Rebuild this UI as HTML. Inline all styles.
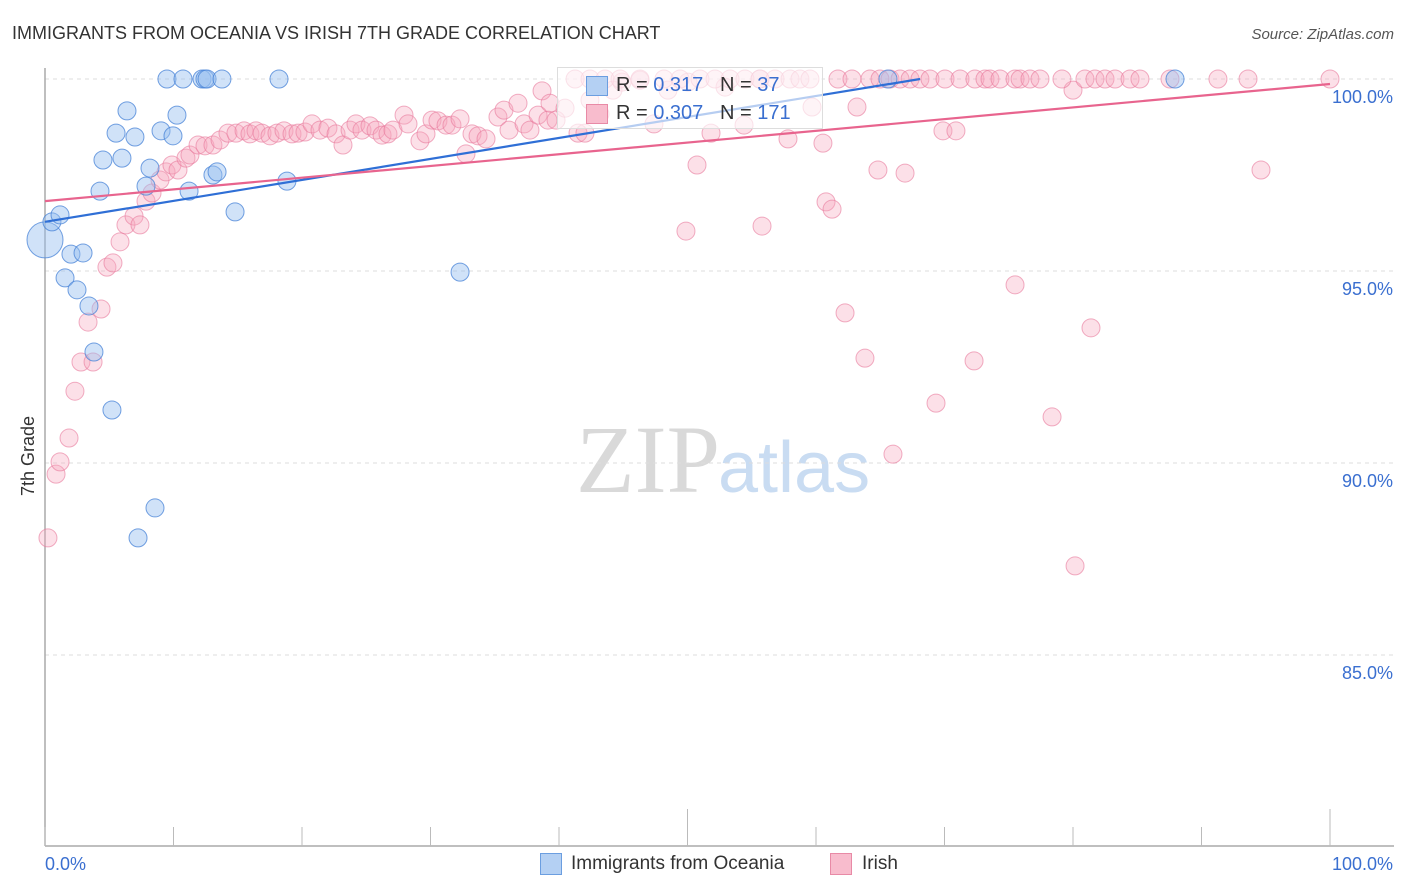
<!DOCTYPE html>
<html><head><meta charset="utf-8"><style>
body{margin:0;background:#fff;font-family:"Liberation Sans",sans-serif}
#wrap{position:relative;width:1406px;height:892px;overflow:hidden}
</style></head><body>
<div id="wrap">
<svg id="svg" width="1406" height="892" xmlns="http://www.w3.org/2000/svg">
<text x="12" y="39" font-size="18" fill="#333">IMMIGRANTS FROM OCEANIA VS IRISH 7TH GRADE CORRELATION CHART</text>
<text x="1394" y="39" font-size="15" fill="#555" font-style="italic" text-anchor="end">Source: ZipAtlas.com</text>
<text x="720" y="492" font-size="96" fill="#d9d9d9" text-anchor="end" font-family="Liberation Serif,serif">ZIP</text>
<text x="718" y="492" font-size="72" fill="#c9dcf2">atlas</text>
<text transform="translate(34,456) rotate(-90)" font-size="18" fill="#333" text-anchor="middle">7th Grade</text>
<g id="grid"></g><g id="marks"></g><g id="trends"></g>
</svg>
<div style="position:absolute;left:557px;top:67px;width:264px;height:60px;border:1px solid #ddd;background:rgba(255,255,255,0.65);font-size:20px;color:#333">
<div style="position:absolute;left:28px;top:8px;width:20px;height:18px;background:#b4d0f3;border:1px solid #6b9ee0"></div>
<div style="position:absolute;left:58px;top:6px">R = <span style="color:#3a6fd0">0.317</span>&nbsp;&nbsp;&nbsp;N = <span style="color:#3a6fd0">37</span></div>
<div style="position:absolute;left:28px;top:36px;width:20px;height:18px;background:#f8bccd;border:1px solid #e88aa6"></div>
<div style="position:absolute;left:58px;top:34px">R = <span style="color:#3a6fd0">0.307</span>&nbsp;&nbsp;&nbsp;N = <span style="color:#3a6fd0">171</span></div>
</div>
<div style="position:absolute;left:540px;top:853px;width:20px;height:20px;background:#b4d0f3;border:1px solid #6b9ee0"></div>
<div style="position:absolute;left:571px;top:853px;font-size:19px;color:#333">Immigrants from Oceania</div>
<div style="position:absolute;left:830px;top:853px;width:20px;height:20px;background:#f8bccd;border:1px solid #e88aa6"></div>
<div style="position:absolute;left:862px;top:853px;font-size:19px;color:#333">Irish</div>
</div>
<script>
const yTicks=[100,95,90,85];
const yTickLabels=["100.0%","95.0%","90.0%","85.0%"];
const xTicks=[0,10,20,30,40,50,60,70,80,90,100];
const blueX=[0,0.54,1.17,2.02,2.96,1.56,2.49,3.42,3.81,5.21,8.56,7.24,4.28,4.51,5.99,5.53,6.38,7.00,8.17,7.86,9.03,9.96,10.27,11.21,13.07,13.39,14.79,18.83,32.30,9.49,10.74,12.22,12.45,12.61,13.77,18.21,65.6,87.94];
const blueY=[95.81,96.28,96.46,95.44,95.47,94.82,94.51,94.09,92.89,91.38,88.83,88.05,97.08,97.89,97.94,98.59,99.17,98.49,97.68,97.21,98.65,98.52,99.06,97.08,97.50,97.58,96.54,97.34,94.97,100,100,100,100,100,100,100,100,100];
const pinkX=[0.23,0.86,1.17,1.87,2.33,2.80,3.74,3.35,4.36,4.82,5.29,5.84,6.30,6.93,7.39,7.86,8.33,8.95,9.42,9.88,10.35,10.97,11.28,11.91,12.45,13.07,13.62,14.24,14.86,15.49,15.95,16.42,16.89,17.51,18.05,18.60,19.22,19.69,20.23,20.78,21.40,22.02,22.65,23.19,23.74,24.20,24.67,25.29,25.76,26.23,26.69,27.08,27.94,28.25,29.18,29.65,30.12,30.58,31.21,31.67,32.30,32.76,33.23,33.70,34.32,35.25,35.72,36.11,36.81,37.28,37.74,38.37,38.68,39.14,39.30,39.77,40.47,41.48,42.41,42.02,43.19,44.20,44.90,46.30,47.39,48.48,50.04,50.74,51.83,52.92,54.40,55.64,57.82,59.69,60.54,60.78,61.25,62.26,63.19,63.81,64.82,65.99,66.93,69.34,69.88,70.89,55.80,49.88,72.30,75.49,78.37,80.16,81.40,80.00,94.63,
41.25,42.41,43.58,44.75,46.30,48.17,49.42,50.97,52.14,53.31,54.47,55.64,56.81,57.98,58.75,59.53,61.71,62.80,64.20,64.98,65.76,66.54,67.32,68.09,68.87,70.04,71.21,72.37,73.15,73.54,74.32,75.49,75.88,76.65,77.43,79.14,80.93,81.71,82.49,83.27,84.44,85.21,87.55,91.28,93.62,100];
const pinkY=[88.05,89.71,90.03,90.65,91.87,92.63,92.63,93.67,94.01,95.10,95.21,95.76,96.20,96.43,96.20,96.82,97.03,97.37,97.58,97.76,97.63,97.94,98.02,98.28,98.26,98.28,98.41,98.59,98.59,98.65,98.57,98.65,98.59,98.52,98.59,98.65,98.57,98.59,98.62,98.83,98.67,98.72,98.57,98.28,98.67,98.83,98.67,98.78,98.67,98.54,98.57,98.67,99.06,98.83,98.39,98.57,98.93,98.91,98.80,98.80,98.96,98.05,98.57,98.52,98.44,99.01,99.19,98.67,99.37,98.83,98.67,99.06,99.69,98.93,99.37,98.93,99.24,98.59,99.45,98.59,99.09,99.71,99.92,99.97,98.83,99.71,99.92,97.76,98.59,99.79,98.80,100,98.44,99.27,98.33,96.80,96.61,93.91,99.27,92.73,97.63,90.23,97.55,91.56,98.65,98.65,96.17,96.04,92.66,94.64,91.20,87.32,93.52,99.71,97.63,
100,100,100,100,100,100,100,100,100,100,100,100,100,100,100,100,100,100,100,100,100,100,100,100,100,100,100,100,100,100,100,100,100,100,100,100,100,100,100,100,100,100,100,100,100,100];
const blueTrendX=[0,68.1];
const blueTrendY=[96.28,100];
const pinkTrendX=[0,100];
const pinkTrendY=[96.82,99.87];

const NS="http://www.w3.org/2000/svg";
const sx=v=>45+v*12.85;
const sy=v=>79+(100-v)*38.4;
const svg=document.getElementById('svg');
const grid=document.getElementById('grid'),marks=document.getElementById('marks'),trends=document.getElementById('trends');
function mk(tag,attrs,parent){const e=document.createElementNS(NS,tag);for(const k in attrs)e.setAttribute(k,attrs[k]);parent.appendChild(e);return e;}
yTicks.forEach((t,i)=>{
 const l=mk('line',{x1:45,x2:1394,y1:sy(t),y2:sy(t),stroke:'#ddd','stroke-dasharray':'4,4'},grid);
 
 
 const tx=mk('text',{x:1393,y:sy(t)+24,'font-size':18,fill:'#3a6fd0','text-anchor':'end'},grid);
 tx.textContent=yTickLabels[i];
 
 
});
const ax=mk('line',{x1:45,x2:1394,y1:846,y2:846,stroke:'#aaa','stroke-width':1.5},grid);


const ay=mk('line',{x1:45,x2:45,y1:68,y2:846,stroke:'#aaa','stroke-width':1.5},grid);


xTicks.forEach(t=>{
 const big=(t===50||t===100);
 const l=mk('line',{x1:sx(t),x2:sx(t),y1:big?809:827,y2:846,stroke:'#bbb'},grid);
 
 
});
[[0,'0.0%','start',45],[100,'100.0%','end',1393]].forEach(a=>{
 const tx=mk('text',{x:a[3],y:870,'font-size':18,fill:'#3a6fd0','text-anchor':a[2]},grid);
 tx.textContent=a[1];
 
 
});
pinkX.forEach((x,i)=>{
 const c=mk('circle',{cx:sx(x),cy:sy(pinkY[i]),r:9,fill:'rgba(246,165,190,0.35)',stroke:'rgba(232,120,155,0.6)','stroke-width':1},marks);
 
 
});
blueX.forEach((x,i)=>{
 const c=mk('circle',{cx:sx(x),cy:sy(blueY[i]),r:i===0?18:9,fill:'rgba(150,190,240,0.45)',stroke:'rgba(70,130,215,0.75)','stroke-width':1},marks);
 
 
});
const bt=mk('line',{x1:sx(blueTrendX[0]),y1:sy(blueTrendY[0]),x2:sx(blueTrendX[1]),y2:sy(blueTrendY[1]),stroke:'#2f6fd6','stroke-width':2.2},trends);


const pt=mk('line',{x1:sx(pinkTrendX[0]),y1:sy(pinkTrendY[0]),x2:sx(pinkTrendX[1]),y2:sy(pinkTrendY[1]),stroke:'#e8648e','stroke-width':2.2},trends);


</script>
</body></html>
